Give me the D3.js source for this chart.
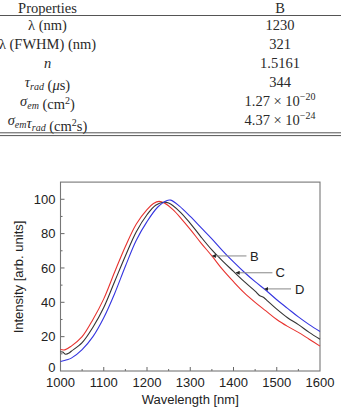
<!DOCTYPE html>
<html>
<head>
<meta charset="utf-8">
<script src="https://cdn.jsdelivr.net/npm/d3@7"></script>
<style>
  body { margin: 0; background: #fff; }
  svg { display: block; }
  .tbl text { font-family: "Liberation Serif", "DejaVu Serif", serif; font-size: 14.5px; fill: #2a2a2a; }
  .ax text { font-family: "Liberation Sans", Arial, sans-serif; font-size: 13px; fill: #222; }
</style>
</head>
<body>
<div class="chart"></div>
<script>
// table rows
const props = ["lambda", "fwhm", "n", "tau", "sigma", "sigmatau"];
const valuesB = ["1230", "321", "1.5161", "344", "1.27 × 10", "4.37 × 10"];
const valueExp = [null, null, null, null, "−20", "−24"];

// emission spectra, wavelength in nm
const waveB = [1000, 1010, 1025, 1050, 1075, 1100, 1125, 1150, 1175, 1200, 1215, 1228, 1240, 1260, 1280, 1300, 1325, 1350, 1375, 1400, 1425, 1450, 1475, 1500, 1525, 1550, 1575, 1600];
const intB  = [12.5, 12.3, 14.5, 20, 30, 42, 57.5, 72.5, 85.5, 94, 97.5, 98.8, 97.8, 94, 88.5, 82.5, 74.5, 67, 59, 52, 45.5, 40, 35, 30, 26, 22.5, 18.5, 14.5];
const waveC = [1000, 1005, 1012, 1020, 1025, 1050, 1075, 1100, 1125, 1150, 1175, 1200, 1220, 1238, 1250, 1275, 1300, 1325, 1350, 1375, 1400, 1425, 1450, 1460, 1470, 1480, 1500, 1525, 1550, 1575, 1600];
const intC  = [11.2, 11, 9.8, 10.5, 11.5, 16.5, 25.5, 37, 52, 67, 81, 91, 96.5, 98.3, 97.8, 93, 86, 78, 70.5, 64, 58, 52, 46.5, 44, 42.8, 40.5, 36, 31, 27, 22.5, 18.5];
const waveD = [1000, 1015, 1025, 1050, 1075, 1100, 1125, 1150, 1175, 1200, 1225, 1245, 1255, 1275, 1300, 1325, 1350, 1375, 1400, 1425, 1450, 1475, 1500, 1525, 1550, 1575, 1600];
const intD  = [5.5, 6.5, 7.5, 12.5, 20, 31, 45, 61, 76, 87, 95.5, 99.2, 99.5, 96, 90, 83.5, 77, 70, 63.5, 57.5, 52, 47, 41.5, 36.5, 31.5, 27, 23];

const seriesNames = ["B", "C", "D"];
const seriesColors = ["#e8322e", "#333333", "#3434e0"];
// label pointers: tip (wavelength, intensity), line end wavelength, label start wavelength
const tipWave = [1350, 1405, 1471];
const tipInt = [67, 57.2, 47.8];
const lineEndWave = [1430, 1490, 1533];
const labelWave = [1438, 1497, 1542];

const xTicks = [1000, 1100, 1200, 1300, 1400, 1500, 1600];
const yTicks = [0, 20, 40, 60, 80, 100];

const W = 341, H = 410;
const svg = d3.select(".chart").append("svg").attr("width", W).attr("height", H);

// ---- table ----
const tbl = svg.append("g").attr("class", "tbl");
const colL = 47.5, colR = 280, rowY0 = 29.5, rowStep = 19;

tbl.append("text").attr("x", colL).attr("y", 12.5).attr("text-anchor", "middle").text("Properties");
tbl.append("text").attr("x", colR).attr("y", 12.5).attr("text-anchor", "middle").text("B");
tbl.append("line").attr("x1", 0).attr("x2", W).attr("y1", 15.5).attr("y2", 15.5).attr("stroke", "#555").attr("stroke-width", 1);
tbl.append("line").attr("x1", 0).attr("x2", W).attr("y1", 132.8).attr("y2", 132.8).attr("stroke", "#555").attr("stroke-width", 1);
tbl.append("line").attr("x1", 0).attr("x2", W).attr("y1", 135.6).attr("y2", 135.6).attr("stroke", "#555").attr("stroke-width", 1);

function sub(t, s) {
  t.append("tspan").attr("font-style", "italic").attr("font-size", "10px").attr("dy", 3).text(s);
  t.append("tspan").attr("dy", -3).text("");
}
props.forEach((p, i) => {
  const t = tbl.append("text").attr("x", colL).attr("y", rowY0 + i * rowStep).attr("text-anchor", "middle");
  if (p === "lambda") { t.append("tspan").text("λ (nm)"); }
  else if (p === "fwhm") { t.append("tspan").text("λ (FWHM) (nm)"); }
  else if (p === "n") { t.append("tspan").attr("font-style", "italic").text("n"); }
  else if (p === "tau") {
    t.append("tspan").attr("font-style", "italic").text("τ");
    sub(t, "rad");
    t.append("tspan").text(" (");
    t.append("tspan").attr("font-style", "italic").text("μ");
    t.append("tspan").text("s)");
  } else if (p === "sigma") {
    t.append("tspan").attr("font-style", "italic").text("σ");
    sub(t, "em");
    t.append("tspan").text(" (cm");
    t.append("tspan").attr("font-size", "10px").attr("dy", -5).text("2");
    t.append("tspan").attr("dy", 5).text(")");
  } else {
    t.append("tspan").attr("font-style", "italic").text("σ");
    sub(t, "em");
    t.append("tspan").attr("font-style", "italic").text("τ");
    sub(t, "rad");
    t.append("tspan").text(" (cm");
    t.append("tspan").attr("font-size", "10px").attr("dy", -5).text("2");
    t.append("tspan").attr("dy", 5).text("s)");
  }
  const v = tbl.append("text").attr("x", colR).attr("y", rowY0 + i * rowStep).attr("text-anchor", "middle");
  v.append("tspan").text(valuesB[i]);
  if (valueExp[i]) v.append("tspan").attr("font-size", "10px").attr("dy", -6).text(valueExp[i]);
});

// ---- chart ----
const x = d3.scaleLinear().domain([1000, 1600]).range([60.5, 320]);
const y = d3.scaleLinear().domain([0, 110]).range([371, 182.1]);

const ax = svg.append("g").attr("class", "ax");

// inner ticks
const minorX = d3.range(1050, 1600, 100);
const minorY = d3.range(10, 110, 20);
ax.selectAll(".tx").data(xTicks.slice(1, -1)).join("line")
  .attr("x1", d => x(d)).attr("x2", d => x(d)).attr("y1", y(0)).attr("y2", y(0) - 4)
  .attr("stroke", "#666");
ax.selectAll(".mx").data(minorX).join("line").attr("class", "mx")
  .attr("x1", d => x(d)).attr("x2", d => x(d)).attr("y1", y(0)).attr("y2", y(0) - 2)
  .attr("stroke", "#666");
ax.selectAll(".ty").data(yTicks.slice(1)).join("line").attr("class", "ty")
  .attr("x1", x(1000)).attr("x2", x(1000) + 4).attr("y1", d => y(d)).attr("y2", d => y(d))
  .attr("stroke", "#666");
ax.selectAll(".my").data(minorY).join("line").attr("class", "my")
  .attr("x1", x(1000)).attr("x2", x(1000) + 2).attr("y1", d => y(d)).attr("y2", d => y(d))
  .attr("stroke", "#666");

// frame
ax.append("rect").attr("x", x(1000)).attr("y", y(110))
  .attr("width", x(1600) - x(1000)).attr("height", y(0) - y(110))
  .attr("fill", "none").attr("stroke", "#777").attr("stroke-width", 1.1);

ax.selectAll(".xl").data(xTicks).join("text").attr("class", "xl")
  .attr("x", d => x(d)).attr("y", 387).attr("text-anchor", "middle").text(d => d);
ax.selectAll(".yl").data(yTicks).join("text").attr("class", "yl")
  .attr("x", 55.5).attr("y", d => y(d)).attr("dy", d => d === 0 ? "0.1em" : "0.36em")
  .attr("text-anchor", "end").text(d => d);

ax.append("text").attr("x", (x(1000) + x(1600)) / 2).attr("y", 404)
  .attr("text-anchor", "middle").text("Wavelength [nm]");
ax.append("text").attr("transform", "translate(23," + 277 + ") rotate(-90)")
  .attr("text-anchor", "middle").text("Intensity [arb. units]");

// curves
const line = d3.line().x(d => x(d[0])).y(d => y(d[1])).curve(d3.curveCatmullRom);
const data = [d3.zip(waveB, intB), d3.zip(waveC, intC), d3.zip(waveD, intD)];
svg.selectAll(".curve").data(data).join("path").attr("class", "curve")
  .attr("d", line).attr("fill", "none")
  .attr("stroke", (d, i) => seriesColors[i]).attr("stroke-width", 1.1);

// label pointers
svg.append("defs").append("marker").attr("id", "ah")
  .attr("viewBox", "0 0 6 6").attr("refX", 6).attr("refY", 3)
  .attr("markerWidth", 4).attr("markerHeight", 4).attr("orient", "auto")
  .append("path").attr("d", "M0,0L6,3L0,6Z").attr("fill", "#222");

seriesNames.forEach((n, i) => {
  svg.append("line")
    .attr("x1", x(lineEndWave[i])).attr("x2", x(tipWave[i]))
    .attr("y1", y(tipInt[i])).attr("y2", y(tipInt[i]))
    .attr("stroke", "#888").attr("stroke-width", 1).attr("marker-end", "url(#ah)");
  ax.append("text").attr("x", x(labelWave[i])).attr("y", y(tipInt[i])).attr("dy", "0.36em")
    .text(n);
});
</script>
</body>
</html>
